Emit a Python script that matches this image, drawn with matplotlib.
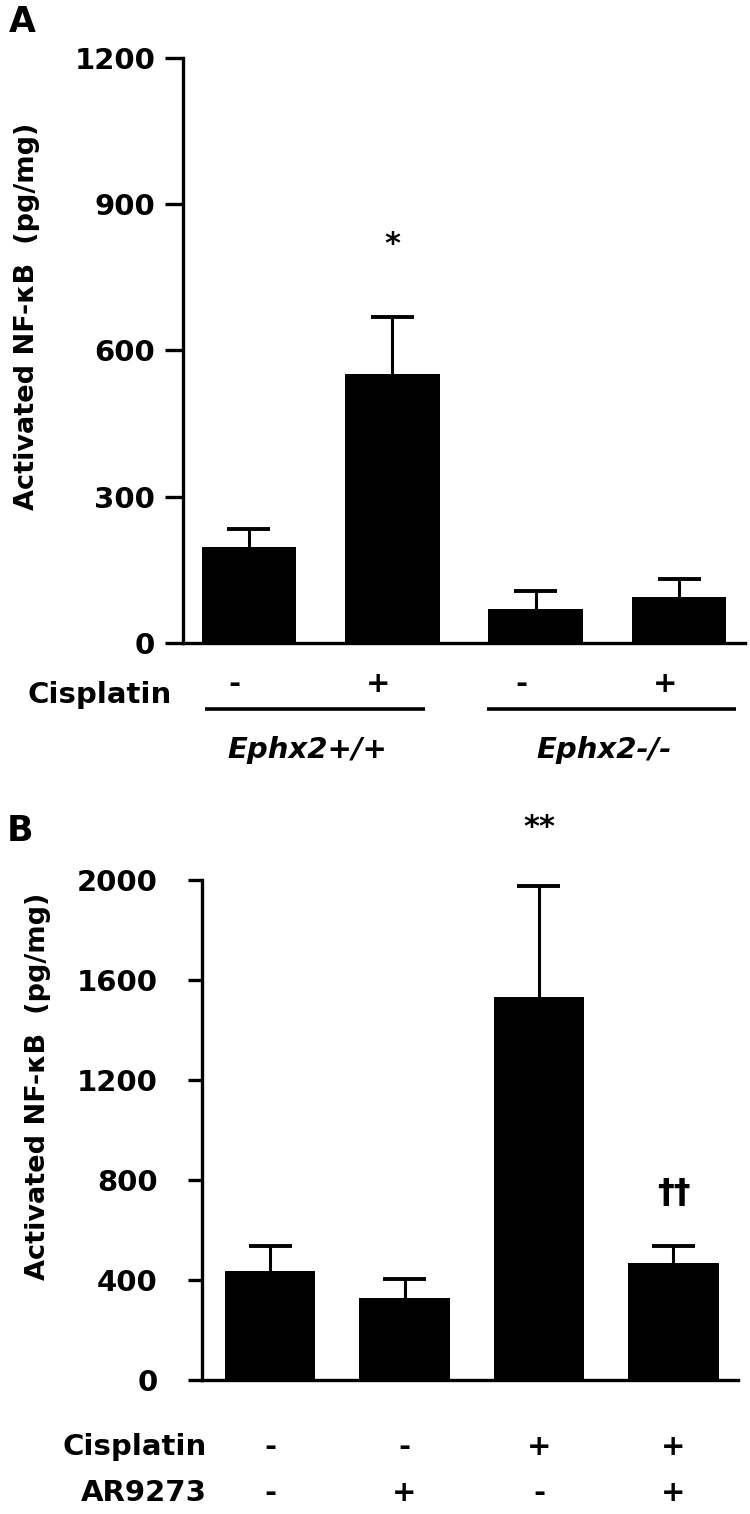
import numpy as np
import matplotlib
matplotlib.use("Agg")
import matplotlib.pyplot as plt
import matplotlib.transforms as mtransforms

plt.rcParams['font.family'] = ['DejaVu Sans']
plt.rcParams['font.weight'] = 'bold'

# Panel A data (Activated NF-kB, pg/mg)
groupsA = ['Ephx2+/+', 'Ephx2-/-']
cisplatinA = ['-', '+', '-', '+']
meanA = [197, 552, 70, 94]
errA = [36, 116, 37, 37]
yticksA = [0, 300, 600, 900, 1200]

# Panel B data
cisplatinB = ['-', '-', '+', '+']
ar9273B = ['-', '+', '-', '+']
meanB = [436, 328, 1532, 468]
errB = [100, 76, 444, 68]
yticksB = [0, 400, 800, 1200, 1600, 2000]

W, H = 750, 1514
fig = plt.figure(figsize=(W / 100, H / 100), dpi=100)


def px_axes(left, top, right, bottom):
    return fig.add_axes([left / W, 1 - bottom / H, (right - left) / W, (bottom - top) / H])


def style_axes(ax, ticklen, pad):
    for s in ['top', 'right']:
        ax.spines[s].set_visible(False)
    for s in ['left', 'bottom']:
        ax.spines[s].set_linewidth(2.4)
    ax.tick_params(axis='y', length=ticklen, width=2.4, pad=pad, labelsize=21)
    ax.tick_params(axis='x', length=0, labelbottom=False)
    for lab in ax.get_yticklabels():
        lab.set_fontweight('bold')


def bars_with_upper_err(ax, mean, err, width, capw):
    x = np.arange(len(mean))
    top = np.array(mean) + np.array(err)
    ax.vlines(x, mean, top, color='black', lw=2.2, zorder=1)
    ax.hlines(top, x - capw / 2, x + capw / 2, color='black', lw=2.8, zorder=1)
    ax.bar(x, mean, width=width, color='black', zorder=2)
    return x


# ---------------- Panel A ----------------
axA = px_axes(183, 58, 745, 643)
xA = bars_with_upper_err(axA, meanA, errA, 0.66, 0.3)
axA.set_xlim(-0.46, 3.46)
axA.set_ylim(0, 1200)
axA.set_yticks(yticksA)
style_axes(axA, 13, 7)

axA.text(1, meanA[1] + errA[1] + 150, '*', ha='center', va='center', fontsize=22, fontweight='bold')

transA = mtransforms.blended_transform_factory(axA.transData, axA.transAxes)
for i, s in enumerate(cisplatinA):
    axA.text(i - 0.1, -0.07, s, transform=transA, ha='center', va='center',
             fontsize=21, fontweight='bold', clip_on=False)
for (x0, x1), g in zip([(-0.31, 1.23), (1.66, 3.40)], groupsA):
    axA.plot([x0, x1], [-0.113, -0.113], transform=transA, color='black', lw=2.6,
             clip_on=False, solid_capstyle='butt')
    axA.text((x0 + x1) / 2 - 0.05, -0.183, g, transform=transA, ha='center', va='center',
             fontsize=21, fontweight='bold', fontstyle='italic', clip_on=False)

fig.text(172 / W, 1 - 695 / H, 'Cisplatin', ha='right', va='center', fontsize=21, fontweight='bold')
fig.text(27 / W, 1 - 316 / H, 'Activated NF-\u03baB  (pg/mg)', rotation=90, ha='center', va='center',
         fontsize=19.5, fontweight='bold')
fig.text(22 / W, 1 - 22 / H, 'A', ha='center', va='center', fontsize=25, fontweight='bold')

# ---------------- Panel B ----------------
axB = px_axes(202, 880, 738, 1380)
xB = bars_with_upper_err(axB, meanB, errB, 0.67, 0.32)
axB.set_xlim(-0.506, 3.48)
axB.set_ylim(0, 2000)
axB.set_yticks(yticksB)
style_axes(axB, 10, 22)

axB.text(2, meanB[2] + errB[2] + 232, '**', ha='center', va='center', fontsize=22,
         fontweight='bold', clip_on=False)
axB.text(3, meanB[3] + errB[3] + 212, '\u2020\u2020', ha='center', va='center', fontsize=24,
         fontweight='bold')

transB = mtransforms.blended_transform_factory(axB.transData, axB.transAxes)
for i, (c, a) in enumerate(zip(cisplatinB, ar9273B)):
    axB.text(i, -0.134, c, transform=transB, ha='center', va='center', fontsize=21,
             fontweight='bold', clip_on=False)
    axB.text(i, -0.226, a, transform=transB, ha='center', va='center', fontsize=21,
             fontweight='bold', clip_on=False)

fig.text(207 / W, 1 - 1447 / H, 'Cisplatin', ha='right', va='center', fontsize=21, fontweight='bold')
fig.text(207 / W, 1 - 1493 / H, 'AR9273', ha='right', va='center', fontsize=21, fontweight='bold')
fig.text(38 / W, 1 - 1086 / H, 'Activated NF-\u03baB  (pg/mg)', rotation=90, ha='center', va='center',
         fontsize=19.5, fontweight='bold')
fig.text(20 / W, 1 - 831 / H, 'B', ha='center', va='center', fontsize=25, fontweight='bold')

fig.savefig('out.png', dpi=100)
